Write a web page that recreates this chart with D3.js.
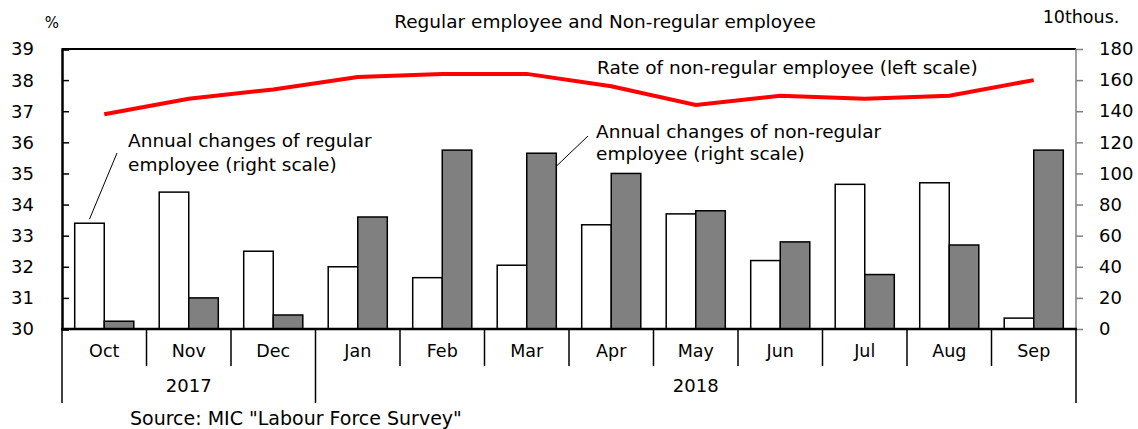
<!DOCTYPE html>
<html>
<head>
<meta charset="utf-8">
<script src="https://cdn.jsdelivr.net/npm/d3@7"></script>
<style>
  body { margin: 0; background: #fff; }
  text { font-family: "DejaVu Sans", sans-serif; fill: #000; }
</style>
</head>
<body>
<div class="chart"></div>
<script>
const months = ["Oct", "Nov", "Dec", "Jan", "Feb", "Mar", "Apr", "May", "Jun", "Jul", "Aug", "Sep"];
const years = [{label: "2017", from: 0, to: 3}, {label: "2018", from: 3, to: 12}];
const regular = [68, 88, 50, 40, 33, 41, 67, 74, 44, 93, 94, 7];
const nonRegular = [5, 20, 9, 72, 115, 113, 100, 76, 56, 35, 54, 115];
const rate = [36.9, 37.4, 37.7, 38.1, 38.2, 38.2, 37.8, 37.2, 37.5, 37.4, 37.5, 38.0];
const leftTicks = [30, 31, 32, 33, 34, 35, 36, 37, 38, 39];
const rightTicks = [0, 20, 40, 60, 80, 100, 120, 140, 160, 180];

const width = 1138;
const height = 429;
const plotL = 62, plotR = 1076, plotT = 49, plotB = 329;

const svg = d3.select('.chart')
    .append('svg')
    .attr('width', width)
    .attr('height', height);

const x = d3.scaleBand().domain(months).range([plotL, plotR]).padding(0);
const xInner = d3.scaleBand().domain(["reg", "non"]).range([0, x.bandwidth()])
    .paddingInner(0).paddingOuter(0.43);
const yLeft = d3.scaleLinear().domain([30, 39]).range([plotB, plotT]);
const yRight = d3.scaleLinear().domain([0, 180]).range([plotB, plotT]);

// bars
const rows = months.map((m, i) => ({m: m, reg: regular[i], non: nonRegular[i]}));
const groups = svg.selectAll('.grp')
    .data(rows)
    .enter()
    .append('g')
    .attr('transform', d => `translate(${x(d.m)},0)`);

groups.append('rect')
    .attr('x', xInner('reg'))
    .attr('y', d => yRight(d.reg))
    .attr('width', xInner.bandwidth())
    .attr('height', d => yRight(0) - yRight(d.reg))
    .attr('fill', '#fff')
    .attr('stroke', '#000')
    .attr('stroke-width', 1.5);

groups.append('rect')
    .attr('x', xInner('non'))
    .attr('y', d => yRight(d.non))
    .attr('width', xInner.bandwidth())
    .attr('height', d => yRight(0) - yRight(d.non))
    .attr('fill', '#808080')
    .attr('stroke', '#000')
    .attr('stroke-width', 1.5);

// rate line
const line = d3.line()
    .x((d, i) => x(months[i]) + x.bandwidth() / 2)
    .y(d => yLeft(d));
svg.append('path')
    .datum(rate)
    .attr('d', line)
    .attr('fill', 'none')
    .attr('stroke', '#ff0000')
    .attr('stroke-width', 4);

// frame
svg.append('line').attr('x1', plotL).attr('x2', plotR).attr('y1', plotT).attr('y2', plotT)
    .attr('stroke', '#000').attr('stroke-width', 2);
svg.append('line').attr('x1', plotR).attr('x2', plotR).attr('y1', plotT).attr('y2', plotB)
    .attr('stroke', '#808080').attr('stroke-width', 1.5);

// left axis (ticks inward)
const leftAxis = svg.append('g')
    .attr('transform', `translate(${plotL},0)`)
    .call(d3.axisRight(yLeft).tickValues(leftTicks).tickSize(7).tickFormat(''));
leftAxis.select('.domain').attr('stroke-width', 2.5);
leftAxis.selectAll('.tick line').attr('stroke-width', 1.5);
svg.selectAll('.ltl')
    .data(leftTicks)
    .enter()
    .append('text')
    .attr('x', 34)
    .attr('y', d => yLeft(d))
    .attr('dy', '0.36em')
    .attr('text-anchor', 'end')
    .attr('font-size', 18)
    .text(d => d);

// right axis (ticks outward, grey)
const rightAxis = svg.append('g')
    .attr('transform', `translate(${plotR},0)`)
    .call(d3.axisRight(yRight).tickValues(rightTicks).tickSize(7).tickPadding(16));
rightAxis.select('.domain').remove();
rightAxis.selectAll('.tick line').attr('stroke', '#808080').attr('stroke-width', 1.5);
rightAxis.selectAll('.tick text')
    .attr('font-size', 18)
    .attr('font-family', '"DejaVu Sans", sans-serif')
    .attr('fill', '#000');

// bottom category axis
svg.append('line').attr('x1', plotL - 1).attr('x2', plotR + 1).attr('y1', plotB).attr('y2', plotB)
    .attr('stroke', '#000').attr('stroke-width', 2.5);
const bounds = months.map(m => x(m)).concat([plotR]);
svg.selectAll('.sep')
    .data(bounds)
    .enter()
    .append('line')
    .attr('x1', d => d).attr('x2', d => d)
    .attr('y1', plotB)
    .attr('y2', 366)
    .attr('stroke', '#000')
    .attr('stroke-width', 1.5);
svg.selectAll('.mlab')
    .data(months)
    .enter()
    .append('text')
    .attr('x', d => x(d) + x.bandwidth() / 2)
    .attr('y', 357)
    .attr('text-anchor', 'middle')
    .attr('font-size', 17.5)
    .text(d => d);

const yearBounds = [years[0].from, years[1].from, years[1].to];
svg.selectAll('.ysep')
    .data(yearBounds)
    .enter()
    .append('line')
    .attr('x1', d => d < months.length ? x(months[d]) : plotR)
    .attr('x2', d => d < months.length ? x(months[d]) : plotR)
    .attr('y1', 366)
    .attr('y2', 403)
    .attr('stroke', '#000')
    .attr('stroke-width', 1.5);
svg.selectAll('.ylab')
    .data(years)
    .enter()
    .append('text')
    .attr('x', d => {
        const a = x(months[d.from]);
        const b = d.to < months.length ? x(months[d.to]) : plotR;
        return (a + b) / 2;
    })
    .attr('y', 392)
    .attr('text-anchor', 'middle')
    .attr('font-size', 18)
    .text(d => d.label);

// titles and labels
svg.append('text').attr('x', 605).attr('y', 28).attr('text-anchor', 'middle')
    .attr('font-size', 18.5).text('Regular employee and Non-regular employee');
svg.append('text').attr('x', 52).attr('y', 28).attr('text-anchor', 'middle')
    .attr('font-size', 15).text('%');
svg.append('text').attr('x', 1081).attr('y', 23).attr('text-anchor', 'middle')
    .attr('font-size', 17.5).text('10thous.');
svg.append('text').attr('x', 130).attr('y', 425)
    .attr('font-size', 19).text('Source: MIC "Labour Force Survey"');

// annotations
svg.append('text').attr('x', 597).attr('y', 74)
    .attr('font-size', 18.5).text('Rate of non-regular employee (left scale)');

const ann1 = svg.append('text').attr('font-size', 18.5);
ann1.append('tspan').attr('x', 128).attr('y', 147).text('Annual changes of regular');
ann1.append('tspan').attr('x', 128).attr('y', 171).text('employee (right scale)');
svg.append('line')
    .attr('x1', 117).attr('y1', 153)
    .attr('x2', x('Oct') + xInner('reg') + xInner.bandwidth() / 2).attr('y2', yRight(regular[0]) - 4)
    .attr('stroke', '#000').attr('stroke-width', 1);

const ann2 = svg.append('text').attr('font-size', 18.5);
ann2.append('tspan').attr('x', 596).attr('y', 138).text('Annual changes of non-regular');
ann2.append('tspan').attr('x', 596).attr('y', 160).text('employee (right scale)');
svg.append('line')
    .attr('x1', 588).attr('y1', 136)
    .attr('x2', x('Mar') + xInner('non') + xInner.bandwidth()).attr('y2', yRight(nonRegular[5]) + 13)
    .attr('stroke', '#000').attr('stroke-width', 1);
</script>
</body>
</html>
